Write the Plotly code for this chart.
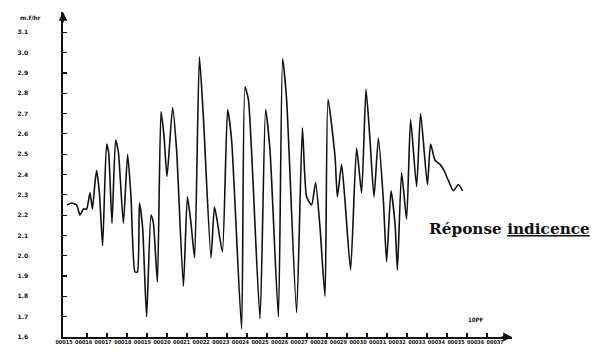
import plotly.graph_objects as go

# ---- data ----
x_vals = [0.0, 0.23, 0.48, 0.65, 0.82, 0.98, 1.15, 1.27, 1.4, 1.48,
          1.62, 1.78, 1.98, 2.08, 2.25, 2.43, 2.57, 2.82, 3.03, 3.2,
          3.4, 3.52, 3.62, 3.78, 3.98, 4.2, 4.32, 4.52, 4.7, 4.85,
          5.0, 5.28, 5.48, 5.82, 6.02, 6.2, 6.38, 6.62, 6.82, 7.2,
          7.37, 7.48, 7.77, 8.03, 8.23, 8.73, 8.9, 9.07, 9.65, 9.93,
          10.15, 10.57, 10.78, 10.98, 11.48, 11.77, 11.98, 12.23, 12.43, 12.65,
          12.9, 13.05, 13.4, 13.52, 13.73, 13.9, 14.18, 14.48, 14.73, 14.95,
          15.15, 15.35, 15.57, 15.82, 15.98, 16.2, 16.4, 16.52, 16.73, 16.98,
          17.18, 17.48, 17.68, 18.02, 18.18, 18.4, 18.65, 18.85, 19.07, 19.32,
          19.57, 19.78]

response = [2.25, 2.26, 2.25, 2.20, 2.23, 2.23, 2.31, 2.23, 2.36, 2.42,
            2.31, 2.05, 2.55, 2.51, 2.16, 2.57, 2.51, 2.16, 2.50, 2.29,
            1.92, 1.92, 2.26, 2.14, 1.70, 2.20, 2.16, 1.87, 2.71, 2.59,
            2.39, 2.73, 2.52, 1.85, 2.29, 2.16, 1.99, 2.98, 2.68, 1.99,
            2.24, 2.19, 2.02, 2.72, 2.57, 1.64, 2.83, 2.77, 1.69, 2.72,
            2.52, 1.70, 2.97, 2.77, 1.72, 2.63, 2.29, 2.25, 2.36, 2.14,
            1.80, 2.77, 2.49, 2.29, 2.45, 2.27, 1.93, 2.53, 2.31, 2.82,
            2.57, 2.29, 2.58, 2.27, 1.97, 2.32, 2.16, 1.93, 2.41, 2.18,
            2.67, 2.34, 2.70, 2.35, 2.55, 2.47, 2.45, 2.42, 2.37, 2.32,
            2.35, 2.32]

y_tick_vals = [1.6, 1.7, 1.8, 1.9, 2.0, 2.1, 2.2, 2.3, 2.4, 2.5,
               2.6, 2.7, 2.8, 2.9, 3.0, 3.1]
y_tick_text = ["1.6", "1.7", "1.8", "1.9", "2.0", "2.1", "2.2", "2.3", "2.4", "2.5",
               "2.6", "2.7", "2.8", "2.9", "3.0", "3.1"]

x_tick_labels = ["00015", "00016", "00017", "00018", "00019", "00020", "00021",
                 "00022", "00023", "00024", "00025", "00026", "00027", "00028",
                 "00029", "00030", "00031", "00032", "00033", "00034", "00035",
                 "00036", "00037"]

y_unit = "m.f/hr"
x_unit = "10PF"
caption_main = "Réponse "
caption_under = "indicence"

# ---- figure ----
X_RANGE = [-0.2, 22.25]
Y_RANGE = [1.6, 3.2]

fig = go.Figure()
fig.add_trace(go.Scatter(x=x_vals, y=response, mode="lines",
                         line=dict(color="#111111", width=1.6, shape="spline",
                                   smoothing=0.55),
                         showlegend=False, hoverinfo="skip"))

# invisible trace on second x axis so its labels render
label_pos = [-0.15 + 0.98 * i for i in range(len(x_tick_labels))]
fig.add_trace(go.Scatter(x=[0], y=[Y_RANGE[0]], xaxis="x2", mode="markers",
                         marker=dict(opacity=0), showlegend=False, hoverinfo="skip"))

fig.update_layout(
    width=601, height=355,
    margin=dict(l=63, r=89, t=12, b=18, autoexpand=False),
    paper_bgcolor="white", plot_bgcolor="white",
    hovermode=False,
    xaxis=dict(range=X_RANGE, showgrid=False, zeroline=False, automargin=False,
               showline=True, linecolor="#111111", linewidth=1.6,
               ticks="inside", ticklen=4, tickcolor="#111111", tickwidth=1.2,
               tickvals=list(range(1, 22)), showticklabels=False),
    xaxis2=dict(range=X_RANGE, overlaying="x", anchor="y", side="bottom",
                automargin=False,
                showgrid=False, zeroline=False, showline=False, ticks="",
                tickvals=label_pos, ticktext=x_tick_labels, tickangle=0,
                tickfont=dict(family="DejaVu Sans Condensed, DejaVu Sans", size=5.5,
                              color="#111111", weight="bold")),
    yaxis=dict(range=Y_RANGE, showgrid=False, zeroline=False, automargin=False,
               showline=True, linecolor="#111111", linewidth=1.6,
               ticks="inside", ticklen=4, tickcolor="#111111", tickwidth=1.2,
               tickvals=y_tick_vals, ticktext=y_tick_text,
               ticklabelstandoff=32,
               tickfont=dict(family="DejaVu Sans", size=6, color="#111111",
                             weight="bold")),
)

# axis arrowheads
fig.add_annotation(x=X_RANGE[0], y=Y_RANGE[1], xref="x", yref="y", ax=0, ay=12,
                   text="", showarrow=True, arrowhead=2, arrowsize=1.1,
                   arrowwidth=1.6, arrowcolor="#111111")
fig.add_annotation(x=X_RANGE[1], y=Y_RANGE[0], xref="x", yref="y", ax=-12, ay=0,
                   text="", showarrow=True, arrowhead=2, arrowsize=1.1,
                   arrowwidth=1.6, arrowcolor="#111111")

# texts
fig.add_annotation(x=-0.1, y=1.0, xref="paper", yref="paper", text=y_unit,
                   showarrow=False, font=dict(family="DejaVu Sans", size=6,
                                              color="#111111", weight="bold"))
fig.add_annotation(x=20.4, y=1.685, xref="x", yref="y", text=x_unit,
                   showarrow=False, font=dict(family="DejaVu Sans Condensed, DejaVu Sans",
                                              size=6, color="#111111", weight="bold"))
fig.add_annotation(x=22.1, y=2.13, xref="x", yref="y",
                   text=caption_main + "<u>" + caption_under + "</u>",
                   showarrow=False,
                   font=dict(family="DejaVu Serif", size=15.3, color="#111111",
                             weight="bold"))

fig.write_html("out.html",
               config={"displayModeBar": False, "staticPlot": True},
               post_script="document.body.style.margin='0';document.body.style.overflow='hidden';")
